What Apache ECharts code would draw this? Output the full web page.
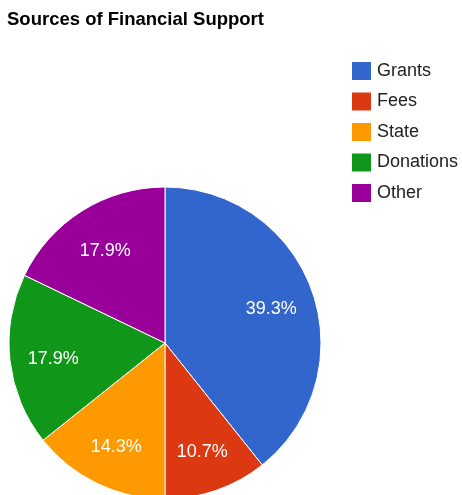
<!DOCTYPE html>
<html>
<head>
<meta charset="utf-8">
<style>
  html, body { margin: 0; padding: 0; background: #fff; }
  #chart { width: 462px; height: 495px; }
</style>
<script src="https://cdn.jsdelivr.net/npm/echarts@6/dist/echarts.min.js"></script>
</head>
<body>
<div id="chart"></div>
<script>
// Funding sources and their relative amounts
const categories = ['Grants', 'Fees', 'State', 'Donations', 'Other'];
const amounts = [11, 3, 4, 5, 5];
const palette = ['#3366cc', '#dc3912', '#ff9900', '#109618', '#990099'];

const chart = echarts.init(document.getElementById('chart'), null, { renderer: 'canvas' });

const data = categories.map((name, i) => ({ name, value: amounts[i] }));
const center = [165, 343];
const font = 'Liberation Sans, Arial, sans-serif';

chart.setOption({
  animation: false,
  color: palette,
  title: {
    text: 'Sources of Financial Support',
    left: 7,
    top: 11,
    padding: 0,
    textStyle: { fontFamily: font, fontSize: 18.5, fontWeight: 'bold', color: '#000', lineHeight: 18 }
  },
  legend: {
    orient: 'vertical',
    left: 352,
    top: 62,
    padding: 0,
    icon: 'rect',
    itemWidth: 19,
    itemHeight: 18,
    itemGap: 12.5,
    data: categories,
    itemStyle: { borderWidth: 0 },
    textStyle: { fontFamily: font, fontSize: 18, color: '#222', lineHeight: 18, padding: [0, 0, 0, 1] }
  },
  series: [
    {
      type: 'pie',
      center: center,
      radius: [0, 156],
      startAngle: 90,
      clockwise: true,
      silent: true,
      data: data,
      itemStyle: { borderColor: '#fff', borderWidth: 1 },
      label: { show: false },
      labelLine: { show: false }
    },
    {
      // transparent ring that only carries the percentage labels
      type: 'pie',
      center: center,
      radius: [63, 156],
      startAngle: 90,
      clockwise: true,
      silent: true,
      legendHoverLink: false,
      data: data,
      itemStyle: { color: 'rgba(0,0,0,0)', borderWidth: 0 },
      label: {
        show: true,
        position: 'inside',
        offset: [0, 3],
        formatter: p => p.percent.toFixed(1) + '%',
        color: '#fff',
        fontFamily: font,
        fontSize: 18
      },
      labelLine: { show: false }
    }
  ]
});
</script>
</body>
</html>
